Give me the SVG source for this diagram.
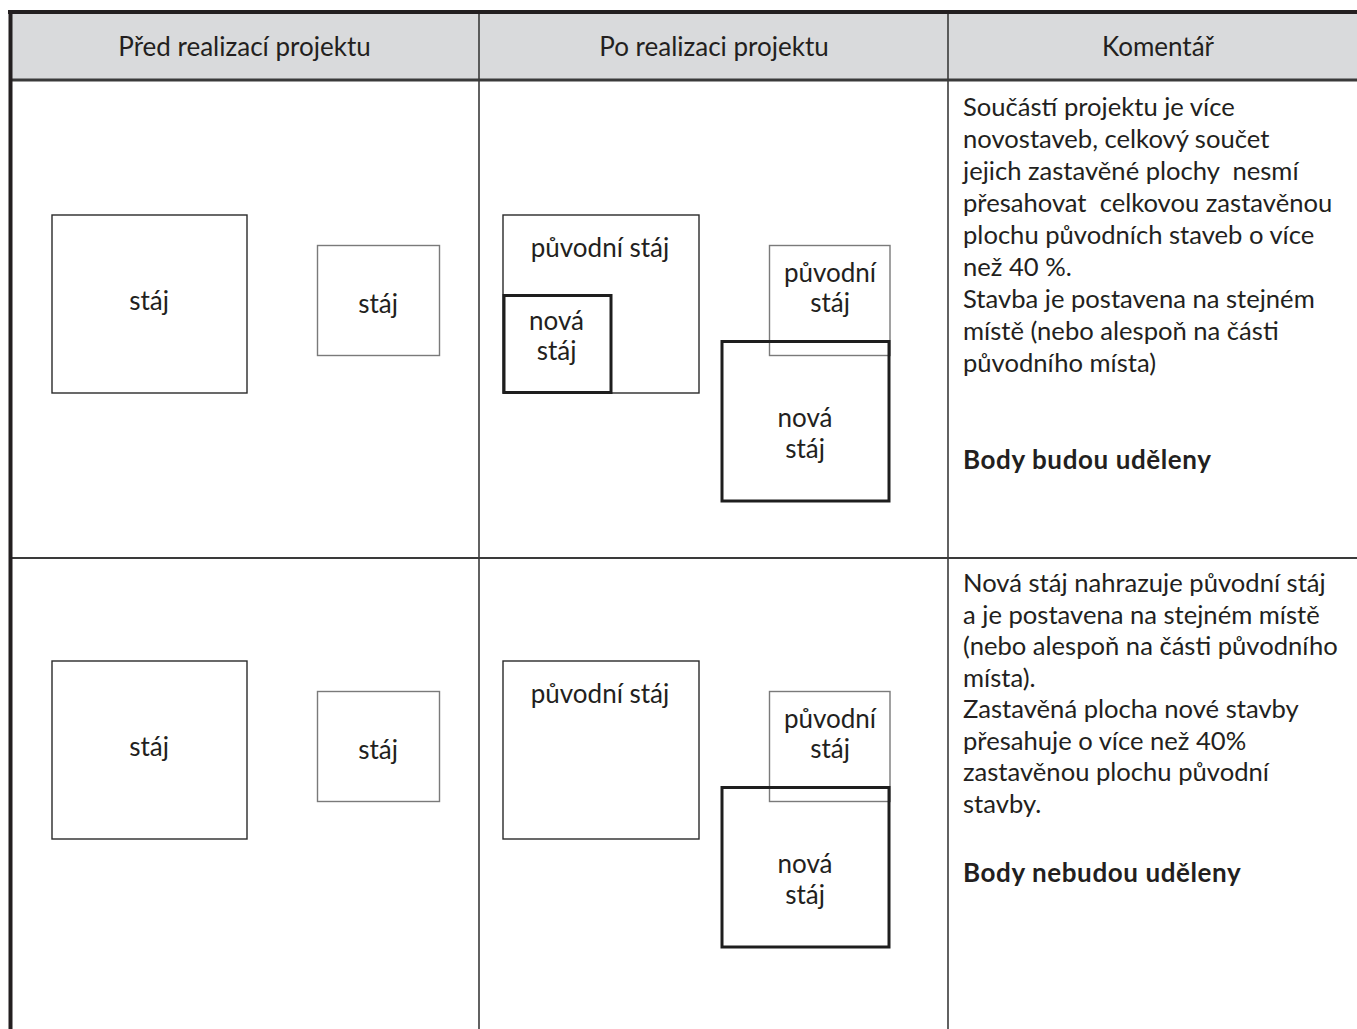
<svg xmlns="http://www.w3.org/2000/svg" width="1357" height="1029" viewBox="0 0 1357 1029">
<style>
  text { font-family: Lato, "Open Sans", "Liberation Sans", sans-serif; font-size: 26px; fill: #231f20; }
  .c { text-anchor: middle; }
  .t { font-size: 25.6px; }
  .b { font-weight: bold; font-size: 26px; letter-spacing: 0.6px; }
  .pre { white-space: pre; }
  .thin { fill: none; stroke: #2a2a2a; stroke-width: 1.4; }
  .grey { fill: none; stroke: #7a7a7a; stroke-width: 1.4; }
  .thick { fill: none; stroke: #1e1e1e; stroke-width: 3; }
  .grid { stroke: #3a3a3a; fill: none; }
</style>
<rect x="0" y="0" width="1357" height="1029" fill="#ffffff"/>
<g id="table">
  <rect x="10" y="12" width="1360" height="67" fill="#d9dadc"/>
  <line class="grid" x1="479" y1="12" x2="479" y2="1029" stroke-width="1.6"/>
  <line class="grid" x1="948" y1="12" x2="948" y2="1029" stroke-width="1.6"/>
  <line class="grid" x1="10" y1="80" x2="1357" y2="80" stroke-width="3"/>
  <line class="grid" x1="10" y1="558" x2="1357" y2="558" stroke-width="2"/>
  <line x1="8" y1="12" x2="1357" y2="12" stroke="#231f20" stroke-width="4"/>
  <line x1="10.5" y1="10" x2="10.5" y2="1029" stroke="#231f20" stroke-width="4"/>
</g>
<g id="header">
  <text class="c" x="244.5" y="56">Před realizací projektu</text>
  <text class="c" x="714" y="56">Po realizaci projektu</text>
  <text class="c" x="1158" y="56">Komentář</text>
</g>
<g id="row1-before">
  <g id="r1-stable-a"><rect class="thin" x="52" y="215" width="195" height="178"/><text class="c" x="149" y="310">stáj</text></g>
  <g id="r1-stable-b"><rect class="grey" x="317.5" y="245.5" width="122" height="110"/><text class="c" x="378" y="313">stáj</text></g>
</g>
<g id="row1-after">
  <g id="r1-orig-a"><rect class="thin" x="503" y="215" width="196" height="178"/><text class="c" x="600" y="257">původní stáj</text></g>
  <g id="r1-new-a"><rect class="thick" x="504" y="295.5" width="107" height="97"/><text class="c" x="556.5" y="330">nová</text><text class="c" x="556.5" y="360">stáj</text></g>
  <g id="r1-orig-b"><rect class="grey" x="769.5" y="245.5" width="120.5" height="110"/><text class="c" x="830" y="282">původní</text><text class="c" x="830" y="312">stáj</text></g>
  <g id="r1-new-b"><rect class="thick" x="722" y="341.5" width="167" height="159.5"/><text class="c" x="805" y="427">nová</text><text class="c" x="805" y="458">stáj</text></g>
</g>
<g id="row1-comment">
  <text class="t" x="963" y="116">Součástí projektu je více</text>
  <text class="t" x="963" y="148">novostaveb, celkový součet</text>
  <text class="t pre" x="963" y="180">jejich zastavěné plochy  nesmí</text>
  <text class="t pre" x="963" y="212">přesahovat  celkovou zastavěnou</text>
  <text class="t" x="963" y="244">plochu původních staveb o více</text>
  <text class="t" x="963" y="276">než 40 %.</text>
  <text class="t" x="963" y="308">Stavba je postavena na stejném</text>
  <text class="t" x="963" y="340">místě (nebo alespoň na části</text>
  <text class="t" x="963" y="372">původního místa)</text>
  <text class="b" x="963" y="469">Body budou uděleny</text>
</g>
<g id="row2-before">
  <g id="r2-stable-a"><rect class="thin" x="52" y="661" width="195" height="178"/><text class="c" x="149" y="756">stáj</text></g>
  <g id="r2-stable-b"><rect class="grey" x="317.5" y="691.5" width="122" height="110"/><text class="c" x="378" y="759">stáj</text></g>
</g>
<g id="row2-after">
  <g id="r2-orig-a"><rect class="thin" x="503" y="661" width="196" height="178"/><text class="c" x="600" y="703">původní stáj</text></g>
  <g id="r2-orig-b"><rect class="grey" x="769.5" y="691.5" width="120.5" height="110"/><text class="c" x="830" y="728">původní</text><text class="c" x="830" y="758">stáj</text></g>
  <g id="r2-new-b"><rect class="thick" x="722" y="787.5" width="167" height="159.5"/><text class="c" x="805" y="873">nová</text><text class="c" x="805" y="904">stáj</text></g>
</g>
<g id="row2-comment">
  <text class="t" x="963" y="592">Nová stáj nahrazuje původní stáj</text>
  <text class="t" x="963" y="623.5">a je postavena na stejném místě</text>
  <text class="t" x="963" y="655">(nebo alespoň na části původního</text>
  <text class="t" x="963" y="686.5">místa).</text>
  <text class="t" x="963" y="718">Zastavěná plocha nové stavby</text>
  <text class="t" x="963" y="749.5">přesahuje o více než 40%</text>
  <text class="t" x="963" y="781">zastavěnou plochu původní</text>
  <text class="t" x="963" y="812.5">stavby.</text>
  <text class="b" x="963" y="882">Body nebudou uděleny</text>
</g>
<g id="connectors"></g>
</svg>
